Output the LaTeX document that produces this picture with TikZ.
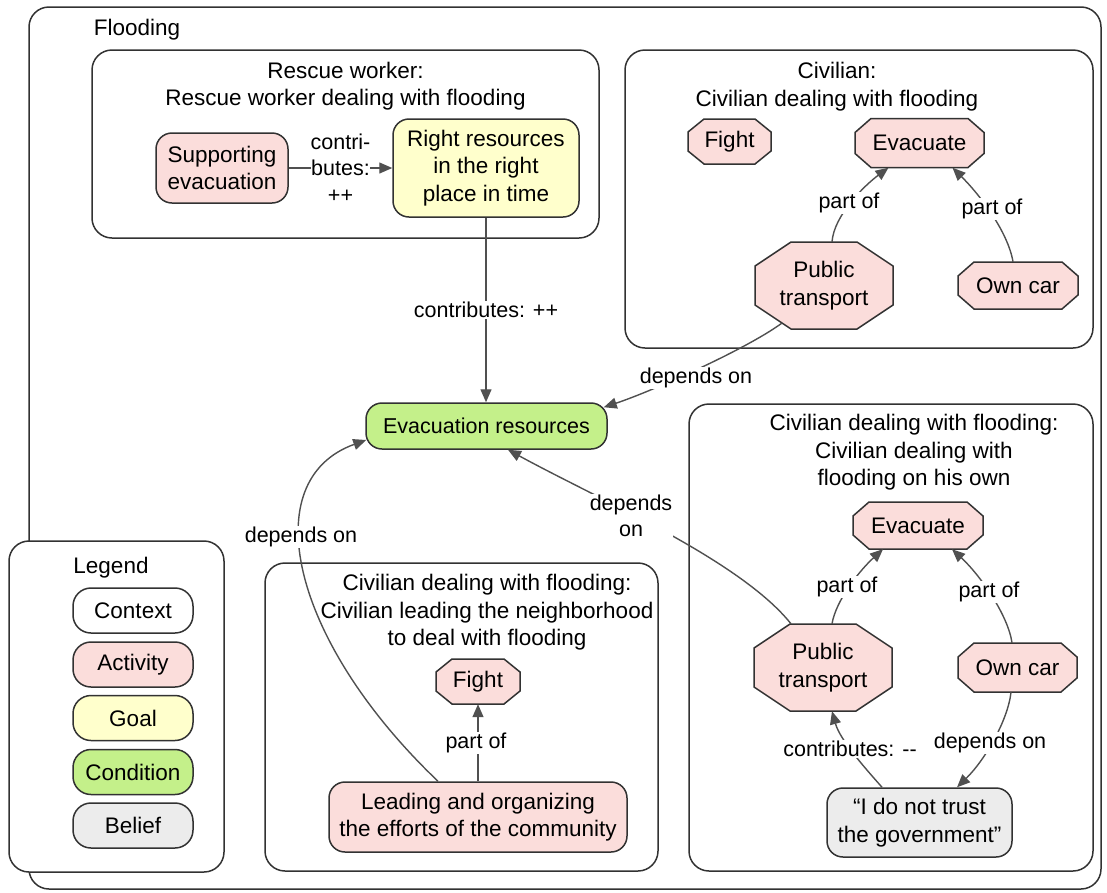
\documentclass[tikz,border=0pt]{standalone}
\usepackage{fontspec}
\setmainfont{Liberation Sans}
\usetikzlibrary{arrows.meta}

\definecolor{actfill}{RGB}{251,221,219}
\definecolor{goalfill}{RGB}{255,255,204}
\definecolor{condfill}{RGB}{196,240,138}
\definecolor{belfill}{RGB}{236,236,236}
\definecolor{edgeline}{RGB}{80,80,80}
\definecolor{frameline}{RGB}{50,50,50}

\tikzset{
  every node/.style={font=\fontsize{22.5}{27.5}\selectfont},
  frame/.style={draw=frameline, line width=1.5pt, rounded corners=20pt, fill=white, inner sep=0pt},
  title/.style={align=center, inner sep=0pt},
  box/.style={draw=frameline, line width=1.5pt, rounded corners=16pt, align=center, inner sep=0pt},
  act/.style={box, fill=actfill},
  goal/.style={box, fill=goalfill},
  cond/.style={box, fill=condfill},
  bel/.style={box, fill=belfill},
  plain/.style={box, fill=white},
  octshape/.style={draw=frameline, line width=1.5pt, fill=actfill},
  octtext/.style={align=center, inner sep=0pt},
  conn/.style={draw=edgeline, line width=1.4pt, -{Triangle[length=13pt,width=11pt]}},
  lbl/.style={fill=white, inner sep=1pt, align=center, font=\fontsize{21.5}{26.5}\selectfont},
}

% activity octagon: name, centre, width, height, chamfer x, chamfer y, text
\newcommand\octnode[7]{%
  \filldraw[octshape, shift={(#2)}]
    (-#3/2+#5,-#4/2) -- (#3/2-#5,-#4/2) -- (#3/2,-#4/2+#6) -- (#3/2,#4/2-#6)
    -- (#3/2-#5,#4/2) -- (-#3/2+#5,#4/2) -- (-#3/2,#4/2-#6) -- (-#3/2,-#4/2+#6) -- cycle;
  \node[octtext, minimum width=#3pt, minimum height=#4pt] (#1) at (#2) {#7};
}

\begin{document}
\begin{tikzpicture}[x=1pt,y=-1pt]
\useasboundingbox (0,0) rectangle (1107,892);

% context frames
\node[frame, minimum width=1072pt, minimum height=882pt] (flood) at (565,448) {};
\node[title] (floodtitle) at (137,30) {Flooding};

\node[frame, minimum width=215pt, minimum height=331pt] (legend) at (116.5,706.5) {};
\node[frame, minimum width=507pt, minimum height=188pt] (rescue) at (345.5,144) {};
\node[frame, minimum width=468pt, minimum height=298pt] (civ) at (859,199) {};
\node[frame, minimum width=404pt, minimum height=467pt] (own) at (891,637.5) {};
\node[frame, minimum width=393pt, minimum height=308pt] (lead) at (461.5,717) {};

\node[title] (rescuetitle) at (345.5,86) {Rescue worker:\\Rescue worker dealing with flooding};
\node[title] (civtitle) at (837,86.5) {Civilian:\\Civilian dealing with flooding};
\node[title] (owntitle) at (914,452.5) {Civilian dealing with flooding:\\Civilian dealing with\\flooding on his own};
\node[title] (leadtitle) at (487,612.5) {Civilian dealing with flooding:\\Civilian leading the neighborhood\\to deal with flooding};

% legend
\node[title] (legendtitle) at (111,568) {Legend};
\node[plain, minimum width=120pt, minimum height=45pt, rounded corners=18pt] (lgctx) at (133,610.5) {Context};
\node[act,   minimum width=120pt, minimum height=45pt, rounded corners=18pt] (lgact) at (133,664.5) {Activity};
\node[goal,  minimum width=120pt, minimum height=45pt, rounded corners=18pt] (lggoal) at (133,718) {Goal};
\node[cond,  minimum width=120pt, minimum height=45pt, rounded corners=18pt] (lgcond) at (133,772) {Condition};
\node[bel,   minimum width=120pt, minimum height=45pt, rounded corners=18pt] (lgbel) at (133,825.5) {Belief};

% rescue worker
\node[act,  minimum width=132pt, minimum height=70pt] (sup) at (222,168) {Supporting\\evacuation};
\node[goal, minimum width=186pt, minimum height=98pt] (rr) at (486,168) {Right resources\\in the right\\place in time};

% shared condition
\node[cond, minimum width=241pt, minimum height=46pt, font=\fontsize{21.5}{26}\selectfont] (er) at (486.5,426) {Evacuation resources};

% civilian
\octnode{fight1}{729.5,141.5}{83}{45}{16}{13}{Fight}
\octnode{ev1}{919.5,143}{129}{49}{16}{14}{Evacuate}
\octnode{pt1}{824,285.5}{138}{87}{36}{24}{Public\\transport}
\octnode{own1}{1018,285.5}{120}{47}{16}{14}{Own car}

% civilian on his own
\octnode{ev2}{918,525.5}{130}{47}{16}{14}{Evacuate}
\octnode{pt2}{823,667.5}{138}{87}{36}{24}{Public\\transport}
\octnode{own2}{1017.5,667.5}{119}{49}{16}{14}{Own car}
\node[bel, minimum width=185pt, minimum height=69pt] (belief) at (919.5,822.5) {“I do not trust\\the government”};

% civilian leading the neighborhood
\octnode{fight2}{478,681.5}{84}{45}{16}{13}{Fight}
\node[act, minimum width=298pt, minimum height=70pt] (org) at (478,817) {Leading and organizing\\the efforts of the community};

% connectors
\draw[conn] (sup.east) -- (sup.east -| rr.west)
  node[lbl, midway, inner xsep=0pt] (lsup) {contri-\\butes:\\++};
\draw[conn] (rr.south) -- (rr.south |- er.north)
  node[lbl, midway] (lrr) {contributes: ++};

\draw[conn] ([xshift=27pt,yshift=6pt]pt1.south west) .. controls (745,350) and (650,392) .. ([xshift=-4pt,yshift=-5pt]er.north east);
\draw[conn] ([xshift=-40pt]org.north) .. controls (290,640) and (255,480) .. ([xshift=1pt,yshift=-14pt]er.west);
\draw[conn] ([xshift=-32pt]pt2.north) .. controls (740,560) and (600,500) .. ([xshift=21.5pt]er.south);

\draw[conn] ([xshift=8pt]pt1.north) .. controls (834,215) and (865,185) .. ([xshift=-31pt]ev1.south);
\draw[conn] ([xshift=-5pt]own1.north) .. controls (1008,232) and (980,195) .. ([xshift=33pt]ev1.south);

\draw[conn] ([xshift=9pt]pt2.north) .. controls (836,600) and (860,570) .. ([xshift=-35pt]ev2.south);
\draw[conn] ([xshift=-5.5pt]own2.north) .. controls (1008,615) and (980,575) .. ([xshift=34pt]ev2.south);
\draw[conn] ([xshift=-37.5pt]belief.north) .. controls (865,768) and (840,740) .. ([xshift=9pt]pt2.south);
\draw[conn] ([xshift=-6.5pt]own2.south) .. controls (1008,720) and (985,760) .. ([xshift=37.5pt]belief.north);

\draw[conn] (org.north) -- (fight2.south);

% connector labels
\node[lbl] (lpt1) at (696,378) {depends on};
\node[lbl] (lorg) at (301,537) {depends on};
\node[lbl] (lpt2) at (631,516) {depends\\on};
\node[lbl] (lpo1) at (849,203) {part of};
\node[lbl] (lpo2) at (992,209) {part of};
\node[lbl] (lpo3) at (847,587) {part of};
\node[lbl] (lpo4) at (989,592) {part of};
\node[lbl] (lcon) at (850,749) {contributes: \mbox{-}\mbox{-}};
\node[lbl] (ldep) at (990,743) {depends on};
\node[lbl] (lpo5) at (476,743) {part of};

\end{tikzpicture}
\end{document}
